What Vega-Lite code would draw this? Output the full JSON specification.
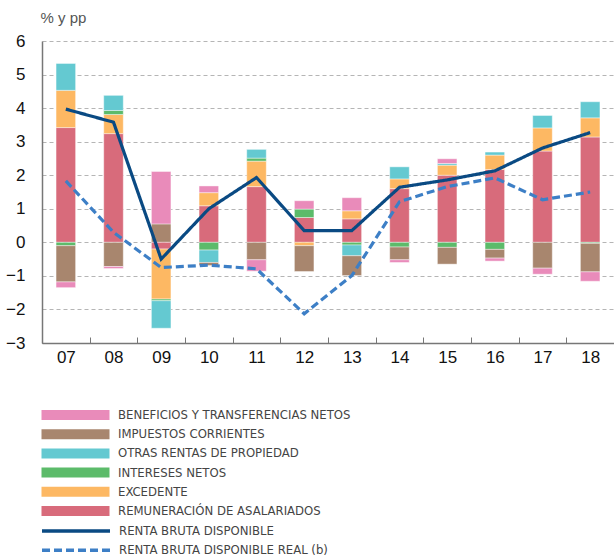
{
  "$schema": "https://vega.github.io/schema/vega-lite/v6.json",
  "width": 572,
  "height": 302,
  "autosize": {"type": "none"},
  "padding": {"left": 42, "top": 41, "right": 0, "bottom": 214},
  "background": "white",
  "config": {
    "view": {"stroke": null},
    "font": "Liberation Sans",
    "axisY": {
      "labelFontSize": 17, "labelColor": "#111", "labelPadding": 17, "ticks": false,
      "domainColor": "#777", "domainWidth": 1.5, "labelOverlap": false,
      "grid": true, "gridDash": [4, 3], "gridColor": "#b5b5b5", "gridWidth": 1,
      "titleAngle": 0, "titleAlign": "left", "titleBaseline": "middle",
      "titleX": -2, "titleY": -24, "titleFontSize": 15, "titleFontWeight": "normal", "titleColor": "#555"
    },
    "legend": {
      "title": null, "orient": "none", "direction": "vertical",
      "symbolSize": 100, "labelOffset": 65, "rowPadding": 5.2,
      "labelFont": "Liberation Sans Narrow, DejaVu Sans Condensed, Liberation Sans",
      "labelFontSize": 13, "labelColor": "#444", "labelLimit": 500
    }
  },
  "datasets": {
    "bars": [
      {"yr": "07", "serie": "REMUNERACIÓN DE ASALARIADOS", "v": 3.42},
      {"yr": "07", "serie": "EXCEDENTE", "v": 1.11},
      {"yr": "07", "serie": "OTRAS RENTAS DE PROPIEDAD", "v": 0.80},
      {"yr": "07", "serie": "INTERESES NETOS", "v": -0.10},
      {"yr": "07", "serie": "IMPUESTOS CORRIENTES", "v": -1.08},
      {"yr": "07", "serie": "BENEFICIOS Y TRANSFERENCIAS NETOS", "v": -0.17},
      {"yr": "08", "serie": "REMUNERACIÓN DE ASALARIADOS", "v": 3.24},
      {"yr": "08", "serie": "EXCEDENTE", "v": 0.57},
      {"yr": "08", "serie": "INTERESES NETOS", "v": 0.12},
      {"yr": "08", "serie": "OTRAS RENTAS DE PROPIEDAD", "v": 0.45},
      {"yr": "08", "serie": "IMPUESTOS CORRIENTES", "v": -0.72},
      {"yr": "08", "serie": "BENEFICIOS Y TRANSFERENCIAS NETOS", "v": -0.06},
      {"yr": "09", "serie": "IMPUESTOS CORRIENTES", "v": 0.55},
      {"yr": "09", "serie": "BENEFICIOS Y TRANSFERENCIAS NETOS", "v": 1.56},
      {"yr": "09", "serie": "REMUNERACIÓN DE ASALARIADOS", "v": -0.20},
      {"yr": "09", "serie": "EXCEDENTE", "v": -1.49},
      {"yr": "09", "serie": "INTERESES NETOS", "v": -0.05},
      {"yr": "09", "serie": "OTRAS RENTAS DE PROPIEDAD", "v": -0.82},
      {"yr": "10", "serie": "REMUNERACIÓN DE ASALARIADOS", "v": 1.09},
      {"yr": "10", "serie": "EXCEDENTE", "v": 0.39},
      {"yr": "10", "serie": "BENEFICIOS Y TRANSFERENCIAS NETOS", "v": 0.20},
      {"yr": "10", "serie": "INTERESES NETOS", "v": -0.23},
      {"yr": "10", "serie": "OTRAS RENTAS DE PROPIEDAD", "v": -0.37},
      {"yr": "10", "serie": "IMPUESTOS CORRIENTES", "v": -0.09},
      {"yr": "11", "serie": "REMUNERACIÓN DE ASALARIADOS", "v": 1.66},
      {"yr": "11", "serie": "EXCEDENTE", "v": 0.76},
      {"yr": "11", "serie": "INTERESES NETOS", "v": 0.09},
      {"yr": "11", "serie": "OTRAS RENTAS DE PROPIEDAD", "v": 0.26},
      {"yr": "11", "serie": "IMPUESTOS CORRIENTES", "v": -0.52},
      {"yr": "11", "serie": "BENEFICIOS Y TRANSFERENCIAS NETOS", "v": -0.34},
      {"yr": "12", "serie": "REMUNERACIÓN DE ASALARIADOS", "v": 0.74},
      {"yr": "12", "serie": "INTERESES NETOS", "v": 0.25},
      {"yr": "12", "serie": "BENEFICIOS Y TRANSFERENCIAS NETOS", "v": 0.25},
      {"yr": "12", "serie": "EXCEDENTE", "v": -0.10},
      {"yr": "12", "serie": "IMPUESTOS CORRIENTES", "v": -0.77},
      {"yr": "13", "serie": "REMUNERACIÓN DE ASALARIADOS", "v": 0.70},
      {"yr": "13", "serie": "EXCEDENTE", "v": 0.24},
      {"yr": "13", "serie": "BENEFICIOS Y TRANSFERENCIAS NETOS", "v": 0.39},
      {"yr": "13", "serie": "INTERESES NETOS", "v": -0.08},
      {"yr": "13", "serie": "OTRAS RENTAS DE PROPIEDAD", "v": -0.32},
      {"yr": "13", "serie": "IMPUESTOS CORRIENTES", "v": -0.59},
      {"yr": "14", "serie": "REMUNERACIÓN DE ASALARIADOS", "v": 1.60},
      {"yr": "14", "serie": "EXCEDENTE", "v": 0.29},
      {"yr": "14", "serie": "OTRAS RENTAS DE PROPIEDAD", "v": 0.36},
      {"yr": "14", "serie": "INTERESES NETOS", "v": -0.14},
      {"yr": "14", "serie": "IMPUESTOS CORRIENTES", "v": -0.38},
      {"yr": "14", "serie": "BENEFICIOS Y TRANSFERENCIAS NETOS", "v": -0.08},
      {"yr": "15", "serie": "REMUNERACIÓN DE ASALARIADOS", "v": 2.00},
      {"yr": "15", "serie": "EXCEDENTE", "v": 0.30},
      {"yr": "15", "serie": "OTRAS RENTAS DE PROPIEDAD", "v": 0.05},
      {"yr": "15", "serie": "BENEFICIOS Y TRANSFERENCIAS NETOS", "v": 0.14},
      {"yr": "15", "serie": "INTERESES NETOS", "v": -0.15},
      {"yr": "15", "serie": "IMPUESTOS CORRIENTES", "v": -0.50},
      {"yr": "16", "serie": "REMUNERACIÓN DE ASALARIADOS", "v": 2.17},
      {"yr": "16", "serie": "EXCEDENTE", "v": 0.43},
      {"yr": "16", "serie": "OTRAS RENTAS DE PROPIEDAD", "v": 0.09},
      {"yr": "16", "serie": "INTERESES NETOS", "v": -0.21},
      {"yr": "16", "serie": "IMPUESTOS CORRIENTES", "v": -0.26},
      {"yr": "16", "serie": "BENEFICIOS Y TRANSFERENCIAS NETOS", "v": -0.09},
      {"yr": "17", "serie": "REMUNERACIÓN DE ASALARIADOS", "v": 2.72},
      {"yr": "17", "serie": "EXCEDENTE", "v": 0.69},
      {"yr": "17", "serie": "OTRAS RENTAS DE PROPIEDAD", "v": 0.37},
      {"yr": "17", "serie": "IMPUESTOS CORRIENTES", "v": -0.77},
      {"yr": "17", "serie": "BENEFICIOS Y TRANSFERENCIAS NETOS", "v": -0.18},
      {"yr": "18", "serie": "REMUNERACIÓN DE ASALARIADOS", "v": 3.14},
      {"yr": "18", "serie": "EXCEDENTE", "v": 0.57},
      {"yr": "18", "serie": "OTRAS RENTAS DE PROPIEDAD", "v": 0.48},
      {"yr": "18", "serie": "INTERESES NETOS", "v": -0.03},
      {"yr": "18", "serie": "IMPUESTOS CORRIENTES", "v": -0.85},
      {"yr": "18", "serie": "BENEFICIOS Y TRANSFERENCIAS NETOS", "v": -0.28}
    ],
    "lines": [
      {"yr": "07", "serie": "RENTA BRUTA DISPONIBLE", "v": 3.97},
      {"yr": "08", "serie": "RENTA BRUTA DISPONIBLE", "v": 3.58},
      {"yr": "09", "serie": "RENTA BRUTA DISPONIBLE", "v": -0.50},
      {"yr": "10", "serie": "RENTA BRUTA DISPONIBLE", "v": 1.00},
      {"yr": "11", "serie": "RENTA BRUTA DISPONIBLE", "v": 1.93},
      {"yr": "12", "serie": "RENTA BRUTA DISPONIBLE", "v": 0.35},
      {"yr": "13", "serie": "RENTA BRUTA DISPONIBLE", "v": 0.35},
      {"yr": "14", "serie": "RENTA BRUTA DISPONIBLE", "v": 1.64},
      {"yr": "15", "serie": "RENTA BRUTA DISPONIBLE", "v": 1.86},
      {"yr": "16", "serie": "RENTA BRUTA DISPONIBLE", "v": 2.13},
      {"yr": "17", "serie": "RENTA BRUTA DISPONIBLE", "v": 2.81},
      {"yr": "18", "serie": "RENTA BRUTA DISPONIBLE", "v": 3.27},
      {"yr": "07", "serie": "RENTA BRUTA DISPONIBLE REAL (b)", "v": 1.83},
      {"yr": "08", "serie": "RENTA BRUTA DISPONIBLE REAL (b)", "v": 0.30},
      {"yr": "09", "serie": "RENTA BRUTA DISPONIBLE REAL (b)", "v": -0.75},
      {"yr": "10", "serie": "RENTA BRUTA DISPONIBLE REAL (b)", "v": -0.68},
      {"yr": "11", "serie": "RENTA BRUTA DISPONIBLE REAL (b)", "v": -0.79},
      {"yr": "12", "serie": "RENTA BRUTA DISPONIBLE REAL (b)", "v": -2.13},
      {"yr": "13", "serie": "RENTA BRUTA DISPONIBLE REAL (b)", "v": -0.99},
      {"yr": "14", "serie": "RENTA BRUTA DISPONIBLE REAL (b)", "v": 1.21},
      {"yr": "15", "serie": "RENTA BRUTA DISPONIBLE REAL (b)", "v": 1.66},
      {"yr": "16", "serie": "RENTA BRUTA DISPONIBLE REAL (b)", "v": 1.92},
      {"yr": "17", "serie": "RENTA BRUTA DISPONIBLE REAL (b)", "v": 1.27},
      {"yr": "18", "serie": "RENTA BRUTA DISPONIBLE REAL (b)", "v": 1.50}
    ]
  },
  "encoding": {
    "x": {
      "field": "yr", "type": "ordinal",
      "scale": {"paddingInner": 0, "paddingOuter": 0},
      "axis": {
        "title": null, "labelAngle": 0, "labelFontSize": 17, "labelColor": "#111",
        "labelPadding": 12, "domainColor": "#777", "domainWidth": 1.5,
        "tickBand": "extent", "tickSize": -6, "tickColor": "#777", "tickWidth": 1, "grid": false
      }
    }
  },
  "layer": [
    {
      "data": {"name": "bars"},
      "transform": [
        {"calculate": "indexof(['REMUNERACIÓN DE ASALARIADOS','EXCEDENTE','INTERESES NETOS','OTRAS RENTAS DE PROPIEDAD','IMPUESTOS CORRIENTES','BENEFICIOS Y TRANSFERENCIAS NETOS'], datum.serie)", "as": "ord"}
      ],
      "mark": {"type": "bar", "width": {"band": 0.41}, "stroke": "white", "strokeWidth": 0.6, "strokeOpacity": 0.7},
      "encoding": {
        "y": {
          "field": "v", "type": "quantitative", "stack": "zero",
          "scale": {"domain": [-3, 6], "nice": false},
          "axis": {"values": [-3, -2, -1, 0, 1, 2, 3, 4, 5, 6], "tickCount": 10, "title": "% y pp"}
        },
        "color": {
          "field": "serie", "type": "nominal",
          "scale": {
            "domain": ["BENEFICIOS Y TRANSFERENCIAS NETOS", "IMPUESTOS CORRIENTES", "OTRAS RENTAS DE PROPIEDAD", "INTERESES NETOS", "EXCEDENTE", "REMUNERACIÓN DE ASALARIADOS"],
            "range": ["#e98bba", "#a8866e", "#64c9d1", "#5cbb6a", "#fdb863", "#d86b7b"]
          },
          "legend": {
            "legendX": -2, "legendY": 367.5,
            "symbolType": "M-1,-1H12.6V1H-1Z", "symbolStrokeWidth": 0, "symbolOpacity": 1
          }
        },
        "order": {"field": "ord", "type": "quantitative"}
      }
    },
    {
      "mark": {"type": "rule", "color": "#777", "strokeWidth": 1.2},
      "encoding": {"y": {"datum": 0, "type": "quantitative", "axis": {"values": [-3, -2, -1, 0, 1, 2, 3, 4, 5, 6], "tickCount": 10, "title": "% y pp"}}}
    },
    {
      "data": {"name": "lines"},
      "mark": {"type": "line", "strokeWidth": 3.2},
      "encoding": {
        "y": {"field": "v", "type": "quantitative", "axis": {"values": [-3, -2, -1, 0, 1, 2, 3, 4, 5, 6], "tickCount": 10, "title": "% y pp"}},
        "stroke": {
          "field": "serie", "type": "nominal",
          "scale": {"domain": ["RENTA BRUTA DISPONIBLE", "RENTA BRUTA DISPONIBLE REAL (b)"], "range": ["#0a4a83", "#3d7fc6"]},
          "legend": {
            "legendX": -2, "legendY": 483,
            "symbolType": "M-1,0H12.6", "symbolStrokeWidth": 3.5, "symbolOpacity": 1
          }
        },
        "strokeDash": {
          "field": "serie", "type": "nominal",
          "scale": {"domain": ["RENTA BRUTA DISPONIBLE", "RENTA BRUTA DISPONIBLE REAL (b)"], "range": [[1, 0], [8, 4]]},
          "legend": {
            "legendX": -2, "legendY": 483,
            "symbolType": "M-1,0H12.6", "symbolStrokeWidth": 3.5, "symbolOpacity": 1
          }
        }
      }
    }
  ]
}
